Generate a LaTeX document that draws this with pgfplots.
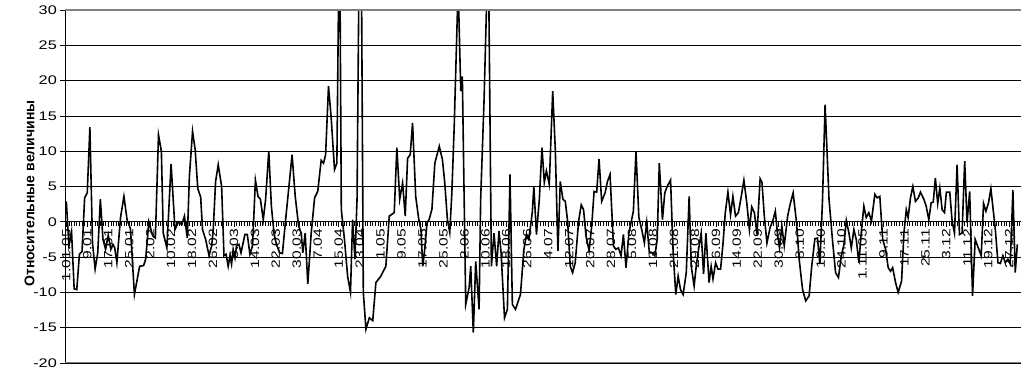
\documentclass[border=0pt]{standalone}
\usepackage{fontspec}
\setmainfont{Liberation Sans}
\usepackage{graphicx}
\usepackage{pgfplots}
\usepackage{pgfplotstable}
\pgfplotsset{compat=1.18}
\usetikzlibrary{calc}
\newcommand\w[1]{\scalebox{1.3}[1]{#1}}
\newcommand\wy[1]{\scalebox{1.3}[1]{#1}}

\pgfplotstableread{
x y
0 2.9
1 -3.4
2 -1.4
3 -9.5
4 -9.6
5 -4.6
6 -4.2
7 3.4
8 4.1
9 13.4
10 -3
11 -6.7
12 -4.4
13 3.2
14 -2.5
15 -3.9
16 -1.9
17 -3.9
17.8 -3.2
18.5 -3.7
19.3 -5.8
20.7 0.6
22 3.6
23.2 0.3
24.5 -1
26 -10.3
28 -6.3
29.5 -6.2
30.3 -5.3
31.5 0
33 -2
34 -2.3
35.2 12.3
36.3 10
37 -1.6
38.4 -3.7
40 8.2
41.5 -1.1
42.8 0
44.1 -0.4
45.1 0.8
46.2 -2.3
47 6.5
48.2 12.8
49.2 10.2
50.2 4.7
51.3 3.5
52 -1.1
53.2 -2.5
54.5 -4.8
55.5 -3.4
56.1 -1.1
57 5.7
58 8.1
59.3 5
60.2 -4.8
61 -4.6
61.8 -6.3
62.5 -4.8
63.1 -6
63.7 -3.9
64.4 -5.1
65 -3.4
65.9 -3.2
66.7 -4.4
68.2 -1.8
69.1 -1.8
70.1 -4.6
71.1 -3.4
72.2 5.9
73.2 3.6
74.1 3.2
75.2 0.3
76.1 3.2
77.3 10
78.3 2.2
79.3 -1.6
80.2 -3.2
81.5 -4.4
82.5 -4.5
84 1.3
85 5
86.2 9.5
87.4 3.6
88.7 -0.6
89.7 -1.6
90.3 -4.4
91.2 -1.6
92.2 -8.8
93.5 -1.6
94.8 3.4
96 4.3
97.3 8.7
98.2 8.3
99 9.5
100.1 19.2
101.1 14.9
102.4 7.4
103.3 8.3
104.3 45
105 1.7
106.2 -2.5
107.4 -7.7
108.5 -10
109.3 0.3
110.2 -5.3
111 3.2
112.3 59
113.4 -10
114.4 -15.2
115.7 -13.6
117 -14
118.2 -8.6
120.1 -7.7
122 -6.3
123.3 0.8
125.2 1.3
126.2 10.5
127.3 3.2
128.4 5.5
129.4 0.8
130.3 9
131.3 9.5
132.2 14
133.4 3.6
134.5 0.5
135.4 -1.1
136.1 -6.3
136.9 -3.7
137.7 -0.2
138.6 0.4
139.6 1.8
140.7 8.3
142.4 10.7
143.6 8.8
144.5 5.5
145.5 0.3
146.4 -1.5
147.2 4.1
148.1 13.5
149.6 33.5
150.6 18.5
151.2 20.6
152.5 -11.7
153.8 -9.3
154.4 -6.3
155.4 -15.7
156.3 -5.6
157.6 -12.4
158.2 3.2
159.5 17.3
161.1 40
162.3 -6.3
163.3 -1.6
164.3 -6.3
165.2 -1.3
166 -4.4
167.3 -13.6
168.4 -12.4
169.4 6.7
170.3 -11.7
171.5 -12.4
173.4 -10.3
174.7 -3.9
175.7 -1.8
176.6 -2.5
177.9 1.3
178.5 5
179.5 -1.8
180.6 3.2
181.6 10.5
182.5 5.6
183.3 7.2
184.4 5.3
185.7 18.5
186.7 10.2
187.7 -4.1
188.6 5.7
189.6 3.2
190.5 2.9
191.4 0.1
192.4 -6.3
193.3 -7.2
194.3 -5.8
195.6 0.1
196.6 2.4
197.5 1.7
198.4 -2
199.6 -4.1
200.6 -0.6
201.5 4.3
202.5 4.2
203.4 8.9
204.4 2.9
205.7 4.1
206.6 5.7
207.6 6.7
208.9 -3.4
209.8 -3.9
210.8 -3.7
211.8 -4.8
212.7 -1.8
213.7 -6.5
214.8 -1.6
216.5 1.5
217.5 10
218.6 0.6
219.7 -1.1
220.7 -3
221.6 -0.1
222.6 -4.4
223.8 -4.4
224.7 -4.8
225.6 -2.5
226.4 8.3
227.6 0.3
228.5 4.1
229.4 5
230.7 5.9
231.7 -4.4
232.7 -10.3
233.6 -7.7
234.5 -9.6
235.5 -10.3
236.7 -7.2
237.8 3.6
238.6 -6.3
239.7 -9.1
240.5 -6.3
241.4 -3.9
242.4 -1.6
243.3 -7.4
244.2 -1.6
245.4 -8.6
246.2 -6.3
246.9 -8.1
247.9 -5.8
248.8 -6.7
249.8 -6.7
250.7 -3.2
251.6 1.3
252.6 4.2
253.6 1
254.5 3.6
255.5 0.8
256.6 1.3
257.7 3.6
258.7 5.9
259.8 2.7
260.8 -1.1
261.7 2.1
262.7 1.3
263.7 -1.8
264.9 6.1
265.6 5.6
266.5 0.8
267.5 -3
268.7 -0.8
269.7 0.1
270.7 1.5
271.6 -2
272.3 -3.7
273.2 -0.6
274.1 -3.4
275.4 0.8
276.3 2.4
277.5 4.1
278.8 -0.1
279.8 -5.3
281.1 -9.6
282.3 -11.2
283.6 -10.5
284.6 -6.3
285.8 -2.4
286.8 -2.3
287.7 -6
288.7 2.9
289.7 16.6
291.2 3.2
292.5 -2.5
293.7 -7.2
294.8 -7.9
295.9 -4.8
296.9 -3.2
297.8 0.2
298.8 -1.6
299.7 -3.7
300.7 -1.1
301.6 -2.5
302.6 -5.8
303.6 -1.1
304.5 2.2
305.4 0.6
306.4 1.3
307.4 0.1
308.7 3.9
309.6 3.4
310.6 3.6
311.7 -2.5
312.8 -3.9
313.8 -6.5
314.7 -7
315.5 -6.5
316.6 -8.6
317.6 -10
318.9 -8.4
319.8 -1.6
320.7 1.7
321.4 0.6
322.3 3.4
323.2 5
324.2 2.9
325.3 3.4
326.1 4.2
327.4 3.2
328.3 2.2
329.3 0.3
330.2 2.7
331 2.8
331.8 6.2
332.7 2.6
333.5 4.8
334.4 1.7
335.3 1.3
336 4.2
337.3 4.2
338.2 0.1
339.1 -1.6
340.1 8.1
341 -1.8
342 -1.6
343 8.6
343.9 -0.1
344.9 4.3
346 -10.5
347 -2.5
347.9 -3.4
349.3 -4.8
350.2 2.6
351.1 1.5
352.1 2.7
353 4.7
354.7 -1.1
355.7 -5.8
356.6 -5.9
357.6 -4.8
358.5 -5.8
359.5 -5.3
360.4 -6
361.4 4.5
362.3 -7.2
363.1 -3.2
}\datatable

\begin{document}
\begin{tikzpicture}
\begin{axis}[
  scale only axis, width=956pt, height=353pt,
  xmin=-0.5, xmax=364.5, ymin=-20, ymax=30,
  axis x line*=middle, axis y line*=left,
  axis line style={black, line width=0.9pt},
  tick align=outside,
  major tick length=5pt, minor tick length=4pt,
  tick style={black, line width=0.6pt},
  ytick={-20,-15,...,30},
  yticklabels={\wy{-20},\wy{-15},\wy{-10},\wy{-5},\wy{0},\wy{5},\wy{10},\wy{15},\wy{20},\wy{25},\wy{30}},
  yticklabel style={font=\fontsize{12.5}{12.5}\selectfont, inner sep=0pt, xshift=-3pt},
  ymajorgrids, grid style={black, line width=0.7pt},
  xtick={0,8,...,360},
  minor xtick={0,1,...,364},
  xticklabels={\w{1.01.05},\w{9.01},\w{17.01},\w{25.01},\w{2.02},\w{10.02},\w{18.02},\w{26.02},\w{6.03},\w{14.03},\w{22.03},\w{30.03},\w{7.04},\w{15.04},\w{23.04},\w{1.05},\w{9.05},\w{17.05},\w{25.05},\w{2.06},\w{10.06},\w{18.06},\w{26.06},\w{4.07},\w{12.07},\w{20.07},\w{28.07},\w{5.08},\w{13.08},\w{21.08},\w{29.08},\w{6.09},\w{14.09},\w{22.09},\w{30.09},\w{8.10},\w{16.10},\w{24.10},\w{1.11.05},\w{9.11},\w{17.11},\w{25.11},\w{3.12},\w{11.12},\w{19.12},\w{27.12}},
  xticklabel style={font=\fontsize{12}{12}\selectfont, rotate=90, anchor=east, inner sep=0pt, xshift=-2pt},
  every axis y label/.style={at={(axis description cs:-0.037,0.48)}, rotate=90, anchor=center, font=\fontsize{14}{14}\selectfont\bfseries},
  ylabel={Относительные величины},
  clip=true,
]
\addplot[black, line width=1.6pt, mark=none] table[x=x, y=y] {\datatable};
\draw[gray, line width=1.6pt] (rel axis cs:0,1) -- (rel axis cs:1,1);
\draw[gray, line width=1.6pt] (rel axis cs:0,0) -- (rel axis cs:1,0);
\coordinate (bl) at (rel axis cs:0,0);
\coordinate (tr) at (rel axis cs:1,1);
\end{axis}
\pgfresetboundingbox
\path ($(bl)+(-65pt,-11pt)$) rectangle ($(tr)+(0pt,10pt)$);
\end{tikzpicture}
\end{document}
